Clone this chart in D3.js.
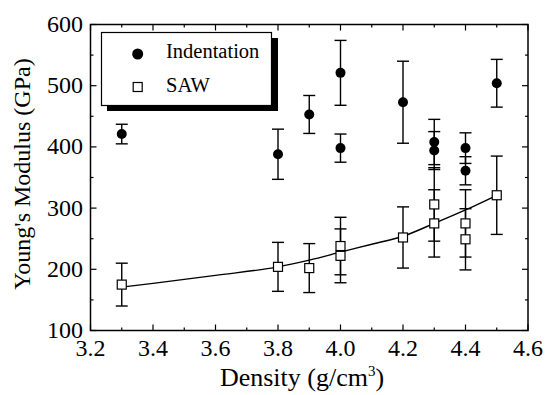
<!DOCTYPE html>
<html>
<head>
<meta charset="utf-8">
<script src="https://d3js.org/d3.v7.min.js"></script>
<style>
  body { margin: 0; background: #fff; }
  svg text { font-family: "Liberation Serif", "Times New Roman", serif; fill: #000; }
</style>
</head>
<body>
<script>
// Indentation measurements
var indX   = [3.3, 3.8, 3.9, 4.0, 4.0, 4.2, 4.3, 4.3, 4.4, 4.4, 4.5];
var indY   = [421, 388, 453, 521, 398, 473, 408, 394, 398, 361, 504];
var indErr = [16, 41, 31, 53, 23, 67, 37, 31, 25, 23, 39];

// SAW measurements
var sawX   = [3.3, 3.8, 3.9, 4.0, 4.0, 4.2, 4.3, 4.3, 4.4, 4.4, 4.5];
var sawY   = [175, 204, 202, 238, 222, 252, 306, 275, 275, 249, 321];
var sawErr = [35, 40, 40, 47, 44, 50, 60, 55, 55, 50, 64];

// fitted curve through SAW data
var fitX = [3.3, 3.4, 3.6, 3.8, 3.9, 4.0, 4.1, 4.2, 4.3, 4.4, 4.5];
var fitY = [171, 177, 190, 204, 215, 228, 241, 254, 275, 297, 321];

var xTicks = [3.2, 3.4, 3.6, 3.8, 4.0, 4.2, 4.4, 4.6];
var yTicks = [100, 200, 300, 400, 500, 600];

var width = 547, height = 395;
var svg = d3.select("body").append("svg")
    .attr("width", width).attr("height", height);

var x = d3.scaleLinear().domain([3.2, 4.6]).range([90.5, 528]);
var y = d3.scaleLinear().domain([100, 600]).range([330.5, 24.5]);

var x0 = x.range()[0], x1 = x.range()[1], y0 = y.range()[0], y1 = y.range()[1];

// frame
svg.append("rect")
    .attr("x", x0).attr("y", y1)
    .attr("width", x1 - x0).attr("height", y0 - y1)
    .attr("fill", "none").attr("stroke", "#000").attr("stroke-width", 1.5);

// ticks, inward on all four sides
var xMinor = d3.range(3.3, 4.6, 0.2);
var yMinor = d3.range(150, 600, 100);
var tk = svg.append("g").attr("stroke", "#000").attr("stroke-width", 1.2);
function xt(v, len) {
  tk.append("line").attr("x1", x(v)).attr("x2", x(v)).attr("y1", y0).attr("y2", y0 - len);
  tk.append("line").attr("x1", x(v)).attr("x2", x(v)).attr("y1", y1).attr("y2", y1 + len);
}
function yt(v, len) {
  tk.append("line").attr("y1", y(v)).attr("y2", y(v)).attr("x1", x0).attr("x2", x0 + len);
  tk.append("line").attr("y1", y(v)).attr("y2", y(v)).attr("x1", x1).attr("x2", x1 - len);
}
xTicks.forEach(function (v) { xt(v, 6); });
xMinor.forEach(function (v) { xt(v, 3); });
yTicks.forEach(function (v) { yt(v, 6); });
yMinor.forEach(function (v) { yt(v, 3); });

// tick labels
svg.append("g").selectAll("text").data(xTicks).enter().append("text")
    .attr("x", function (d) { return x(d); })
    .attr("y", 355.5)
    .attr("text-anchor", "middle")
    .style("font-size", "24px")
    .text(function (d) { return d.toFixed(1); });

svg.append("g").selectAll("text").data(yTicks).enter().append("text")
    .attr("x", 83)
    .attr("y", function (d) { return y(d) + 7.5; })
    .attr("text-anchor", "end")
    .style("font-size", "24px")
    .text(function (d) { return d; });

// axis titles
var xt2 = svg.append("text")
    .attr("x", 302).attr("y", 386)
    .attr("text-anchor", "middle")
    .style("font-size", "26px");
xt2.append("tspan").text("Density (g/cm");
xt2.append("tspan").attr("dy", -10).style("font-size", "15px").text("3");
xt2.append("tspan").attr("dy", 10).text(")");

svg.append("text")
    .attr("transform", "translate(30,174) rotate(-90)")
    .attr("text-anchor", "middle")
    .style("font-size", "24px")
    .text("Young's Modulus (GPa)");

// fit line
svg.append("path")
    .datum(d3.zip(fitX, fitY))
    .attr("fill", "none").attr("stroke", "#000").attr("stroke-width", 1.4)
    .attr("d", d3.line()
        .x(function (d) { return x(d[0]); })
        .y(function (d) { return y(d[1]); })
        .curve(d3.curveMonotoneX));

// error bars
function errorBars(xs, ys, es) {
  var g = svg.append("g").attr("stroke", "#000").attr("stroke-width", 1.4);
  xs.forEach(function (xv, i) {
    var cx = x(xv), top = y(ys[i] + es[i]), bot = y(ys[i] - es[i]);
    g.append("line").attr("x1", cx).attr("x2", cx).attr("y1", top).attr("y2", bot);
    g.append("line").attr("x1", cx - 6).attr("x2", cx + 6).attr("y1", top).attr("y2", top);
    g.append("line").attr("x1", cx - 6).attr("x2", cx + 6).attr("y1", bot).attr("y2", bot);
  });
}
errorBars(indX, indY, indErr);
errorBars(sawX, sawY, sawErr);

// markers
svg.append("g").selectAll("circle").data(d3.zip(indX, indY)).enter().append("circle")
    .attr("cx", function (d) { return x(d[0]); })
    .attr("cy", function (d) { return y(d[1]); })
    .attr("r", 5).attr("fill", "#000");

svg.append("g").selectAll("rect").data(d3.zip(sawX, sawY)).enter().append("rect")
    .attr("x", function (d) { return x(d[0]) - 4.5; })
    .attr("y", function (d) { return y(d[1]) - 4.5; })
    .attr("width", 9).attr("height", 9)
    .attr("fill", "#fff").attr("stroke", "#000").attr("stroke-width", 1.2);

// legend with drop shadow
var lg = svg.append("g");
lg.append("rect").attr("x", 107).attr("y", 38).attr("width", 171).attr("height", 73).attr("fill", "#000");
lg.append("rect").attr("x", 101.5).attr("y", 32.5).attr("width", 170).attr("height", 73)
    .attr("fill", "#fff").attr("stroke", "#000").attr("stroke-width", 1.2);
lg.append("circle").attr("cx", 137.7).attr("cy", 54).attr("r", 5.5).attr("fill", "#000");
lg.append("rect").attr("x", 133.2).attr("y", 82.5).attr("width", 9).attr("height", 9)
    .attr("fill", "#fff").attr("stroke", "#000").attr("stroke-width", 1.2);
lg.append("text").attr("x", 166).attr("y", 58).style("font-size", "20.5px").text("Indentation");
lg.append("text").attr("x", 166).attr("y", 92).style("font-size", "20.5px").text("SAW");
</script>
</body>
</html>
